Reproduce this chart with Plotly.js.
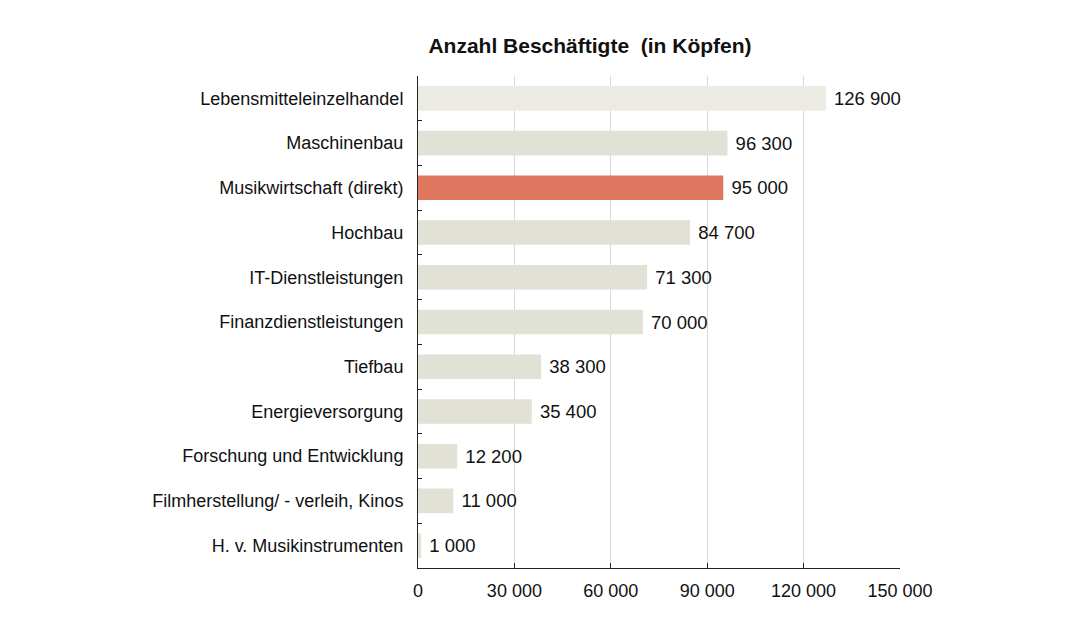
<!DOCTYPE html>
<html><head><meta charset="utf-8">
<script src="https://cdn.plot.ly/plotly-3.0.1.min.js"></script>
<style>body{margin:0;background:#fff}#c{width:1080px;height:633px}</style>
</head><body><div id="c"></div>
<script>
const categories = ["Lebensmitteleinzelhandel","Maschinenbau","Musikwirtschaft (direkt)","Hochbau","IT-Dienstleistungen","Finanzdienstleistungen","Tiefbau","Energieversorgung","Forschung und Entwicklung","Filmherstellung/ - verleih, Kinos","H. v. Musikinstrumenten"];
const values = [126900,96300,95000,84700,71300,70000,38300,35400,12200,11000,1000];
const tickValues = [0,30000,60000,90000,120000,150000];

const fmt = v => String(v).replace(/\B(?=(\d{3})+(?!\d))/g, ' ');
const colors = categories.map((c,i)=> i===0 ? '#ecebe3' : (c==='Musikwirtschaft (direkt)' ? '#df7760' : '#e1e1d5'));
const F = 'Liberation Sans, Arial, sans-serif';

Plotly.newPlot('c', [{
  type:'bar', orientation:'h',
  y: categories, x: values,
  text: values.map(v => '\u00a0' + fmt(v)),
  textposition:'outside', cliponaxis:false,
  textfont:{family:F, size:18.5, color:'#111'},
  marker:{color:colors, line:{width:0}},
  width:0.55, hoverinfo:'none'
}], {
  width:1080, height:633,
  margin:{l:418, r:180, t:76, b:65},
  paper_bgcolor:'#fff', plot_bgcolor:'#fff',
  showlegend:false,
  title:{text:'<b>Anzahl Beschäftigte  (in Köpfen)</b>', x:590/1080, xanchor:'center', y:1-46/633, yanchor:'middle',
    font:{family:F, size:21, color:'#111'}},
  xaxis:{range:[0,150000], tickvals:tickValues, ticktext:tickValues.map(fmt),
    showgrid:true, gridcolor:'#d9d9d9', gridwidth:1, zeroline:false,
    showline:true, linecolor:'#222', linewidth:1, ticks:'inside', ticklen:5, tickcolor:'#222',
    ticklabelstandoff:6,
    tickfont:{family:F, size:18, color:'#111'}, fixedrange:true},
  yaxis:{autorange:false, range:[categories.length-0.5, -0.5], type:'category',
    showline:true, linecolor:'#222', linewidth:1, ticks:'inside', tickson:'boundaries', ticklen:4, tickcolor:'#222',
    showgrid:false, zeroline:false, ticklabelstandoff:10,
    tickfont:{family:F, size:18, color:'#111'}, fixedrange:true}
}, {staticPlot:true});
</script></body></html>
